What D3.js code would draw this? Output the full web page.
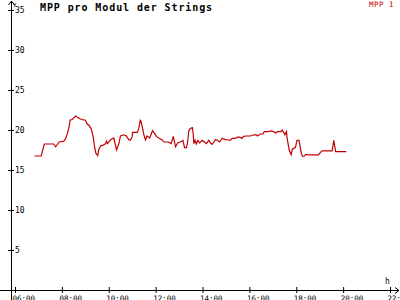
<!DOCTYPE html>
<html>
<head>
<meta charset="utf-8">
<script src="https://cdn.jsdelivr.net/npm/d3@7"></script>
<style>
  body { margin: 0; background: #fff; }
  text { font-family: "DejaVu Sans Mono", monospace; }
</style>
</head>
<body>
<script>
// MPP values
var times = ["06:50","07:07","07:15","07:39","07:44","07:53","08:05","08:11","08:15","08:19",
  "08:21","08:26","08:35","08:46","08:56","09:00","09:05","09:11","09:16","09:20",
  "09:23","09:27","09:32","09:34","09:39","09:46","09:52","09:54","09:57","10:04",
  "10:13","10:20","10:26","10:30","10:38","10:45","10:51","10:56","11:00","11:01",
  "11:13","11:17","11:21","11:25","11:30","11:34","11:38","11:45","11:48","11:52",
  "11:57","12:02","12:08","12:17","12:21","12:33","12:40","12:45","12:51","12:57",
  "13:03","13:10","13:14","13:19","13:22","13:25","13:29","13:34","13:36","13:38",
  "13:41","13:44","13:48","13:53","13:59","14:05","14:10","14:16","14:20","14:25",
  "14:29","14:33","14:37","14:44","14:50","14:59","15:07","15:11","15:16","15:24",
  "15:29","15:35","15:41","15:45","15:52","16:03","16:11","16:18","16:21","16:28",
  "16:35","16:38","16:49","16:54","17:02","17:07","17:11","17:21","17:24","17:28",
  "17:31","17:35","17:36","17:39","17:42","17:47","17:50","17:53","17:58","18:00",
  "18:02","18:07","18:10","18:13","18:16","18:21","18:24","18:28","18:57","19:02",
  "19:06","19:32","19:36","19:38","19:41","20:08"];
var mpp1 = [16.75,16.75,18.25,18.25,17.9,18.5,18.6,19.1,19.7,20.5,
  21.25,21.3,21.75,21.4,21.25,21.25,20.75,20.5,20.0,19.2,
  18.1,17.1,16.8,17.5,18.0,18.1,18.3,18.6,18.3,18.75,
  19.0,17.5,18.3,19.25,19.4,19.25,18.8,18.75,19.2,19.7,
  19.7,20.2,21.3,20.6,19.4,18.75,19.25,19.0,19.4,19.9,
  19.6,19.2,19.0,18.75,18.5,18.5,18.3,19.2,17.9,18.4,
  18.5,18.7,17.8,17.8,18.5,19.9,20.2,20.3,19.6,18.3,
  18.7,18.25,18.7,18.4,18.7,18.5,18.3,18.7,18.4,18.2,
  18.5,18.8,18.75,18.5,18.95,18.8,18.75,18.7,18.95,18.95,
  19.1,19.1,18.95,19.2,19.25,19.25,19.4,19.4,19.25,19.5,
  19.5,19.8,19.8,19.9,19.8,19.6,19.8,19.8,20.0,19.7,
  19.4,19.8,19.2,18.3,17.5,16.9,17.6,17.7,17.8,18.3,
  18.7,18.7,17.9,17.1,16.7,16.75,16.95,16.9,16.9,17.2,
  17.4,17.4,18.7,18.1,17.3,17.3];
var yTicks = [5, 10, 15, 20, 25, 30, 35];
var xTicks = ["06:00","08:00","10:00","12:00","14:00","16:00","18:00","20:00","22:00"];

var width = 400, height = 300;
var parse = d3.timeParse("%H:%M");
var red = "#c00000";

var svg = d3.select("body")
    .append("svg")
    .attr("width", width)
    .attr("height", height);

var x = d3.scaleTime().domain([parse("06:00"), parse("22:00")]).range([15, 390]),
    y = d3.scaleLinear().domain([0, 35]).range([290, 10]);

// y axis
var yAxis = svg.append("g")
    .attr("transform", "translate(11,0)")
    .call(d3.axisLeft(y).tickValues(yTicks).tickSize(3));
yAxis.select(".domain").remove();
yAxis.selectAll(".tick line").attr("x1", -3).attr("x2", 3);
yAxis.selectAll(".tick text")
    .attr("x", 4).attr("dy", "0.35em")
    .attr("text-anchor", "start")
    .style("font-size", "8px");

// x axis
var xAxis = svg.append("g")
    .attr("transform", "translate(0,290)")
    .call(d3.axisBottom(x).tickValues(xTicks.map(parse)).tickSize(3).tickFormat(d3.timeFormat("%H:%M")));
xAxis.select(".domain").remove();
xAxis.selectAll(".tick line").attr("y1", -3).attr("y2", 3);
xAxis.selectAll(".tick text")
    .attr("x", -3).attr("y", 11).attr("dy", 0)
    .attr("text-anchor", "start")
    .style("font-size", "7.5px");

// axis lines with arrows
svg.append("path")
    .attr("d", "M11.5,300V1M8.5,5L11.5,1L14.5,5")
    .attr("fill", "none").attr("stroke", "#000");
svg.append("path")
    .attr("d", "M0,290.5H399M395,287.5L399,290.5L395,293.5")
    .attr("fill", "none").attr("stroke", "#000");

svg.append("text").attr("x", 13).attr("y", 6).text("y")
    .style("font-size", "6px");
svg.append("text").attr("x", 385).attr("y", 284).text("h")
    .style("font-size", "8px");

// title and legend
svg.append("text")
    .attr("x", 40).attr("y", 11)
    .style("font-size", "10px").style("font-weight", "bold")
    .style("letter-spacing", "0.9px")
    .text("MPP pro Modul der Strings");
svg.append("text")
    .attr("x", 369).attr("y", 7)
    .attr("fill", red)
    .style("font-size", "7.5px").style("letter-spacing", "0.5px")
    .text("MPP 1");

// data line
var data = times.map(function (t, i) { return { t: parse(t), v: mpp1[i] }; });
var line = d3.line()
    .x(function (d) { return x(d.t); })
    .y(function (d) { return y(d.v); });

svg.append("path")
    .datum(data)
    .attr("d", line)
    .attr("fill", "none")
    .attr("stroke", red)
    .attr("stroke-width", 1.2);
</script>
</body>
</html>
